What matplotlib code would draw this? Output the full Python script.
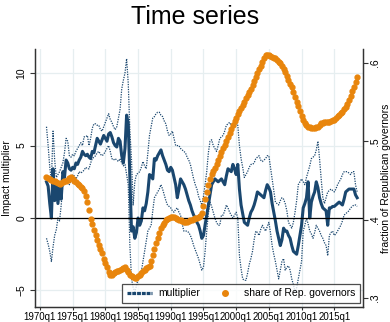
import numpy as np
import matplotlib
matplotlib.use("Agg")
import matplotlib.pyplot as plt
from matplotlib.lines import Line2D

plt.rcParams["font.family"] = ["Liberation Sans", "DejaVu Sans"]

# quarterly sample, 1971q1 - 2018q3
start_year = 1971

mult = [
    2.5, 2.2, 1.0, 0.0,   3.4, 1.2, 2.2, 1.0,   2.1, 1.3, 3.2, 2.8,   4.0, 3.8, 3.4, 3.3,
    3.5, 3.4, 3.8, 3.7,   4.0, 4.2, 4.6, 4.4,   4.3, 4.4, 4.2, 4.1,   4.6, 4.5, 5.0, 5.5,
    5.3, 5.1, 5.4, 5.7,   5.5, 5.3, 5.8, 5.9,   5.6, 5.2, 5.0, 4.9,   5.5, 5.3, 4.3, 3.8,
    4.8, 7.1, 6.5, 2.7,   -0.9, -0.6, -1.4, -1.0,   0.0, -0.5, -0.2, 0.7,   0.5, 1.0, 1.8, 3.0,
    2.9, 2.7, 4.1, 4.0,   4.3, 4.5, 4.7, 4.3,   4.0, 3.7, 3.3, 3.2,   3.5, 3.3, 2.8, 2.3,
    1.4, 2.0, 2.7, 2.5,   2.3, 2.0, 1.6, 1.2,   0.9, 0.5, 0.2, 0.0,   -0.3, -0.5, -0.9, -1.4,
    -1.2, -0.5, 0.2, 0.9,   1.6, 2.3, 2.5, 2.7,   2.6, 2.5, 2.6, 2.7,   2.5, 2.3, 2.9, 3.4,
    3.3, 3.2, 3.7, 3.4,   3.0, 3.7, 2.0, 0.9,   0.3, -0.3, -0.4, -0.5,   0.0, 0.4, 0.6, 0.9,
    1.3, 1.8, 1.7, 1.6,   1.5, 1.4, 1.9, 2.3,   2.1, 1.8, 1.0, 0.4,   -0.2, -0.9, -1.4, -1.9,
    -1.5, -0.7, -0.9, -0.9,   -1.2, -1.4, -1.9, -2.3,   -2.4, -2.5, -1.9, -1.2,   -0.5, 0.7, 1.0, 1.4,
    2.5, 0.0, 1.1, 1.5,   1.8, 2.5, 2.1, 1.4,   1.0, 0.7, 0.6, 0.5,   -0.5, 0.7, 0.7, 0.8,
    0.8, 0.9, 1.0, 1.1,   1.0, 0.9, 1.3, 1.8,   1.9, 2.0, 2.0, 2.0,   2.0, 1.6, 1.4,
]

upper = [
    6.3, 5.0, 3.5, 2.6,   6.0, 4.0, 2.8, 3.0,   3.2, 3.5, 3.8, 4.5,   5.5, 5.3, 4.3, 4.2,
    4.4, 4.3, 4.6, 4.8,   5.0, 5.2, 5.0, 5.6,   5.6, 5.7, 5.0, 5.5,   6.2, 6.5, 6.5, 6.4,
    6.4, 6.1, 6.0, 6.3,   6.6, 6.9, 7.2, 6.8,   6.6, 6.3, 6.1, 6.3,   6.9, 7.5, 8.9, 9.5,
    10.0, 11.0, 9.3, 6.0,   4.0, 0.9, 2.5, 3.0,   3.1, 3.2, 3.5, 3.9,   3.6, 3.4, 4.5, 5.7,
    6.3, 6.9, 7.0, 7.2,   7.3, 7.3, 7.1, 7.0,   6.7, 6.5, 6.0, 5.7,   5.8, 6.0, 5.5, 5.0,
    5.0, 5.0, 4.8, 4.7,   4.6, 4.5, 4.2, 4.0,   3.7, 3.2, 2.7, 2.3,   2.0, 1.5, 1.2, 0.9,
    1.5, 2.3, 3.2, 4.5,   5.3, 5.4, 5.0, 4.8,   4.6, 5.0, 5.5, 5.6,   5.7, 6.0, 6.4, 6.5,
    6.6, 6.4, 6.2, 6.3,   6.5, 6.4, 5.0, 4.1,   3.5, 2.8, 3.0, 3.2,   3.5, 3.7, 3.7, 3.8,
    4.1, 4.2, 4.3, 4.0,   3.9, 4.0, 4.1, 4.3,   4.3, 3.5, 2.7, 1.9,   1.1, 1.0, 0.9, 1.2,
    1.4, 1.3, 1.0, 0.5,   -0.3, -0.5, -0.7, -0.3,   0.4, 1.2, 2.3, 2.5,   2.7, 2.5, 2.3, 2.8,
    3.2, 3.6, 4.1, 4.2,   4.3, 4.7, 5.3, 4.1,   2.7, 1.4, 1.0, 1.4,   1.8, 1.9, 2.0, 1.9,
    1.8, 2.0, 2.3, 2.5,   2.7, 3.0, 3.2, 3.2,   3.2, 3.1, 3.0, 3.2,   3.2, 2.3, 1.8,
]

lower = [
    -1.4, -1.8, -2.3, -3.0,   -2.0, -1.2, -0.8, 0.0,   -0.2, 0.9, 2.3, 2.5,   2.7, 2.5, 2.3, 2.6,
    3.0, 2.9, 2.7, 2.9,   3.2, 3.1, 3.2, 3.3,   3.5, 3.4, 3.4, 3.8,   4.1, 4.2, 4.3, 4.5,
    4.6, 4.4, 4.3, 4.4,   4.6, 4.8, 5.0, 4.6,   4.1, 4.0, 4.1, 4.0,   3.9, 4.1, 3.8, 3.6,
    3.7, 3.0, 2.3, -1.9,   -4.2, -4.8, -5.1, -4.7,   -4.2, -4.0, -3.7, -3.0,   -2.3, -1.6, -0.9, -0.7,
    -0.5, 0.5, 1.4, 1.6,   1.8, 2.0, 2.3, 2.0,   1.6, 1.2, 0.9, 0.8,   0.7, 0.5, 0.4, 0.6,
    0.7, 0.4, 0.2, -0.4,   -0.9, -0.9, -0.9, -1.0,   -1.2, -1.5, -1.9, -2.2,   -2.5, -2.8, -3.2, -3.6,
    -3.4, -2.3, -0.9, 0.3,   1.1, 0.8, 0.4, 0.0,   -0.3, -0.5, -0.5, 0.2,   0.2, 0.5, 0.9, 0.7,
    0.4, 0.2, 0.0, 0.2,   0.4, 0.0, -2.6, -3.5,   -4.2, -4.3, -4.3, -3.8,   -3.2, -2.8, -2.3, -1.5,
    -0.9, -1.0, -1.2, -0.8,   -0.5, -0.7, -0.9, -0.6,   -0.3, -1.0, -1.9, -2.5,   -3.0, -3.6, -4.2, -3.6,
    -3.0, -2.8, -3.6, -3.4,   -3.3, -3.6, -4.2, -4.6,   -5.1, -4.8, -4.2, -3.6,   -3.0, -0.9, -0.5, 0.0,
    -0.4, -0.9, -1.1, -1.4,   -1.0, -0.5, -0.7, -0.9,   -1.2, -1.4, -1.7, -1.9,   -2.6, -1.2, -1.0, -0.9,
    -1.2, -1.1, -0.9, -0.7,   -0.5, -0.2, 0.2, 0.3,   0.4, 0.5, 0.7, 0.8,   0.9, 0.9, 0.8,
]

share = [
    .454, .453, .452, .451,   .450, .449, .448, .447,   .446, .447, .448, .449,   .450, .451, .453, .454,
    .452, .450, .448, .446,   .444, .442, .440, .437,   .430, .422, .412, .401,   .394, .387, .380, .374,
    .368, .363, .357, .350,   .345, .339, .333, .329,   .330, .332, .333, .334,   .335, .336, .337, .338,
    .339, .336, .333, .330,   .328, .327, .326, .326,   .328, .330, .332, .334,   .336, .338, .339, .341,
    .347, .355, .363, .370,   .377, .383, .389, .393,   .396, .399, .401, .402,   .403, .403, .403, .402,
    .401, .400, .399, .398,   .397, .397, .397, .398,   .399, .400, .401, .402,   .402, .403, .405, .409,
    .418, .427, .436, .444,   .452, .458, .462, .466,   .471, .476, .481, .486,   .491, .496, .501, .506,
    .511, .516, .521, .526,   .530, .535, .539, .543,   .547, .551, .555, .559,   .563, .567, .572, .577,
    .582, .587, .592, .597,   .602, .606, .610, .611,   .610, .609, .608, .607,   .606, .604, .602, .600,
    .597, .593, .589, .584,   .579, .574, .569, .563,   .557, .551, .545, .539,   .533, .528, .524, .521,
    .519, .518, .517, .517,   .517, .518, .519, .521,   .523, .524, .525, .525,   .525, .525, .526, .527,
    .528, .530, .532, .534,   .536, .538, .541, .544,   .548, .553, .558, .564,   .570, .576, .582,
]

tick_years = [1970, 1975, 1980, 1985, 1990, 1995, 2000, 2005, 2010, 2015]
left_ticks = [-5, 0, 5, 10]
right_ticks = [.3, .4, .5, .6]

navy = "#1a476f"
orange = "#e8850c"
grid_col = "#e6eef0"

t = start_year + np.arange(len(mult)) / 4.0

fig = plt.figure(figsize=(3.9, 3.22), dpi=100)
ax = fig.add_axes([0.0897, 0.0466, 0.841, 0.801])
ax2 = ax.twinx()

# confidence band and point estimate
ax.plot(t, upper, color=navy, lw=0.9, ls=(0, (1, 1)), zorder=3)
ax.plot(t, lower, color=navy, lw=0.9, ls=(0, (1, 1)), zorder=3)
ax.plot(t, mult, color=navy, lw=2.2, zorder=4)
ax.axhline(0, color="black", lw=0.9, zorder=5)

ax2.plot(t, share, ls="none", marker="o", ms=3.5, color=orange, mec=orange, zorder=6)

ax.set_xlim(1969.24, 2019.39)
ax.set_ylim(-6.14, 11.66)
ax2.set_ylim(0.2885, 0.618)

ax.set_xticks(tick_years)
ax.set_xticklabels([f"{y}q1" for y in tick_years], fontsize=7)
ax.set_yticks(left_ticks)
ax.set_yticklabels([str(v).replace("-", "\u2212") for v in left_ticks],
                   fontsize=7.5, rotation=90, va="center")
ax2.set_yticks(right_ticks)
ax2.set_yticklabels([f"{v:.1f}".lstrip("0") for v in right_ticks],
                    fontsize=7.5, rotation=90, va="center")

ax.grid(True, color=grid_col, lw=0.9)
ax.set_axisbelow(True)

for a in (ax, ax2):
    a.spines["top"].set_visible(False)
    for s in ("left", "right", "bottom"):
        a.spines[s].set_color("#333333")
        a.spines[s].set_linewidth(0.9)
ax.tick_params(axis="y", length=3.5, width=0.8, color="#333333", pad=2.5)
ax2.tick_params(axis="y", length=3.5, width=0.8, color="#333333", pad=1.5)
ax.tick_params(axis="x", length=2.5, width=0.8, color="#333333", pad=1)

ax.set_ylabel("Impact multiplier", fontsize=7.5, labelpad=3)
ax2.set_ylabel("fraction of Republican governors", fontsize=7.5, labelpad=0.5)

fig.suptitle("Time series", fontsize=18, y=0.985, x=0.5, va="top")

handles = [
    Line2D([], [], color=navy, lw=2.3, ls=(0, (1.2, 0.3))),
    Line2D([], [], ls="none", marker="o", ms=4, color=orange),
]
leg = ax2.legend(handles, ["multiplier", "share of Rep. governors"], ncol=2,
                 loc="lower right", bbox_to_anchor=(0.991, 0.0155), borderaxespad=0,
                 fontsize=7.5, fancybox=False, edgecolor="#222222",
                 handlelength=2.4, handletextpad=0.6, columnspacing=1.2, borderpad=0.45)
leg.get_frame().set_linewidth(0.9)
leg.set_zorder(10)

fig.savefig("out.png", dpi=100)
